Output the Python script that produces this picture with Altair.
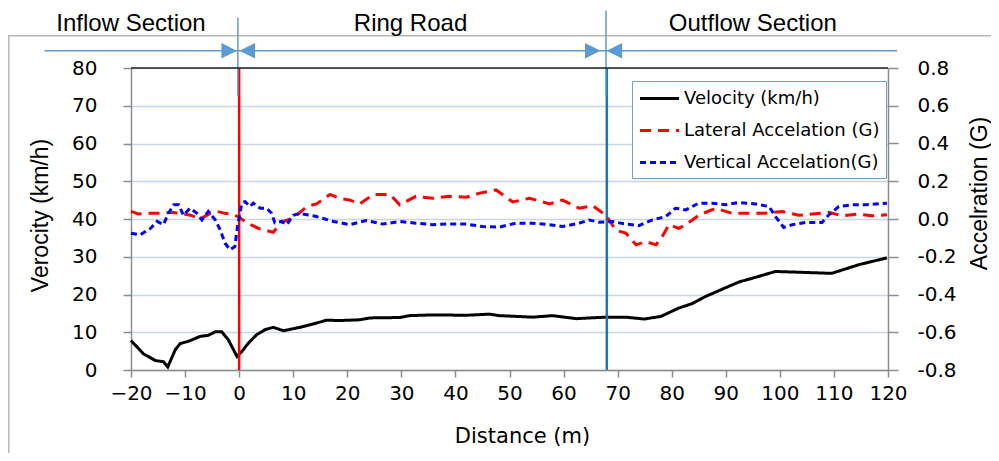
import altair as alt
import pandas as pd

# ---------------- data ----------------
vel_dist = [-20, -17.7, -15.5, -14, -13.2, -11.8, -10.9, -9.4, -7.2, -5.7, -4.4, -3.2, -2.0, -1.2, -0.4,
            0.5, 1.7, 3.2, 4.8, 6.3, 8.2, 11.2, 13.7, 16.2, 18.6, 22.3, 24.2, 29.7, 31.5, 35.8, 42, 46.3,
            48.1, 54.3, 58, 62.3, 67.8, 71.5, 74.9, 78, 81.3, 83.8, 86.3, 88.7, 92.4, 96.1, 99.2, 103.5,
            109.6, 114.6, 119.8]
vel_kmh = [7.8, 4.3, 2.5, 2.2, 0.8, 5.4, 7.0, 7.6, 8.9, 9.2, 10.1, 10.1, 8.0, 5.8, 3.6,
           4.9, 7.1, 9.3, 10.7, 11.3, 10.4, 11.3, 12.2, 13.2, 13.1, 13.3, 13.8, 13.9, 14.4, 14.6, 14.5, 14.8,
           14.4, 14.0, 14.4, 13.6, 14.0, 14.0, 13.5, 14.2, 16.4, 17.6, 19.5, 21.0, 23.3, 24.8, 26.1, 25.9,
           25.6, 27.9, 29.7]

lat_dist = [-20, -18.6, -17, -14.6, -12.7, -10.9, -9, -7.2, -5.4, -4.1, -2.6, -1.1, 0.2, 1.4, 3.6,
            6.3, 7.9, 10, 12.5, 14.3, 16.8, 18.6, 20.5, 22.3, 24.8, 27.9, 29.7, 32.7, 35.8, 38.9,
            42, 44.5, 47.5, 50.6, 53.7, 57.4, 59.8, 62.9, 65.4, 67.8, 69.7, 71.5, 73.4, 75.2, 77.1,
            78.3, 79.5, 81.3, 82.6, 85, 88.1, 91.2, 94.3, 97.3, 100.4, 103.5, 106, 109, 111.5, 114.6,
            117, 119.8]
lat_g = [0.04, 0.026, 0.03, 0.03, 0.036, 0.03, 0.02, 0.0, 0.03, 0.04, 0.03, 0.026, 0.005, -0.02, -0.05,
         -0.07, -0.015, 0.005, 0.066, 0.08, 0.13, 0.11, 0.10, 0.08, 0.13, 0.13, 0.075, 0.12, 0.11, 0.12,
         0.115, 0.137, 0.154, 0.09, 0.11, 0.08, 0.10, 0.057, 0.07, 0.02, -0.06, -0.075, -0.137, -0.12, -0.137,
         -0.09, -0.03, -0.05, -0.03, 0.02, 0.057, 0.03, 0.03, 0.03, 0.04, 0.02, 0.026, 0.035, 0.017, 0.026,
         0.017, 0.022]

ver_dist = [-20, -18.3, -16.4, -15.2, -14, -13.1, -12.1, -11.2, -10.3, -9.1, -7.8, -6.9, -5.7, -4.4, -3.5,
            -2.6, -1.7, -0.8, -0.3, 0.5, 1.1, 2, 2.6, 3.9, 5.1, 6, 6.6, 7.9, 8.8, 10,
            11.2, 14.3, 17.4, 20.5, 23.5, 26.6, 29.7, 32.7, 35.8, 38.9, 42, 45, 48.1, 51.2, 54.3,
            57.4, 59.8, 62.9, 64.7, 66.6, 69, 71.5, 73.9, 76.4, 78.9, 80.7, 82.6, 85, 87.5, 89.9,
            92.4, 95.5, 98, 99.2, 100.7, 102.3, 104.7, 107.8, 109, 110.9, 113.3, 115.8, 119.8]
ver_g = [-0.075, -0.084, -0.05, -0.013, -0.03, 0.03, 0.075, 0.075, 0.02, 0.057, 0.03, -0.005, 0.04, -0.005, -0.058,
         -0.128, -0.163, -0.146, -0.04, 0.084, 0.092, 0.066, 0.084, 0.057, 0.057, 0.03, -0.02, -0.013, -0.03, 0.02,
         0.03, 0.013, -0.013, -0.03, -0.008, -0.027, -0.013, -0.022, -0.03, -0.026, -0.027, -0.04, -0.043, -0.022, -0.022,
         -0.03, -0.04, -0.022, -0.005, -0.017, -0.013, -0.027, -0.035, -0.005, 0.013, 0.057, 0.048, 0.084, 0.084, 0.075,
         0.087, 0.08, 0.066, 0.013, -0.045, -0.03, -0.018, -0.018, 0.02, 0.066, 0.075, 0.075, 0.084]

series_names = ["Velocity (km/h)", "Lateral Accelation (G)", "Vertical Accelation(G)"]

x_ticks = list(range(-20, 121, 10))
left_ticks = list(range(0, 81, 10))
right_ticks = [-0.8, -0.6, -0.4, -0.2, 0.0, 0.2, 0.4, 0.6, 0.8]

# section annotations (in data units: distance m, velocity km/h)
section_labels = ["Inflow Section", "Ring Road", "Outflow Section"]
section_label_x = [-20.0, 31.7, 95.0]
section_label_v = 89.7
boundary_x = [-0.23, 67.85]
boundary_top = [93.3, 95.2]
boundary_bottom = 72.5
arrow_v = 84.6
arrow_line_x = [-36.0, 121.7]
arrow_right_x = [-1.84, 65.4]
arrow_left_x = [1.5, 69.4]
marker_x = [0.0, 68.0]
marker_names = ["start", "end"]
frame_x = [-42.6, 147.0]
frame_v = [-30.0, 88.55]

# ---------------- tables ----------------
vel_df = pd.DataFrame({"d": vel_dist, "v": vel_kmh, "series": series_names[0]})
acc_df = pd.concat([
    pd.DataFrame({"d": lat_dist, "g": lat_g, "series": series_names[1]}),
    pd.DataFrame({"d": ver_dist, "g": ver_g, "series": series_names[2]}),
])
text_df = pd.DataFrame({"d": section_label_x, "v": section_label_v, "label": section_labels})
bound_df = pd.DataFrame({"d": boundary_x, "v": boundary_bottom, "v2": boundary_top})
arrow_line_df = pd.DataFrame({"d": [arrow_line_x[0]], "d2": [arrow_line_x[1]], "v": [arrow_v]})
arr_r_df = pd.DataFrame({"d": arrow_right_x, "v": arrow_v})
arr_l_df = pd.DataFrame({"d": arrow_left_x, "v": arrow_v})
marker_df = pd.DataFrame({"d": marker_x, "v": 0, "v2": 80, "m": marker_names})
top_df = pd.DataFrame({"d": [-20], "d2": [120], "v": [80]})
frame_df = pd.DataFrame({"d": [frame_x[0]], "d2": [frame_x[1]], "v": [frame_v[0]], "v2": [frame_v[1]]})

# ---------------- scales / axes ----------------
XS = alt.Scale(domain=[-20, 120], nice=False, zero=False)
YS = alt.Scale(domain=[0, 80], nice=False, zero=False)
GS = alt.Scale(domain=[-0.8, 0.8], nice=False, zero=False)

TICK_FONT = "DejaVu Sans"
TITLE_FONT = "Liberation Sans"

XAX = alt.Axis(values=x_ticks, title="Distance (m)", grid=False, tickSize=7, labelPadding=6,
               labelOverlap=False, labelFlush=False,
               labelFont=TICK_FONT, labelFontSize=20, labelColor="#000000",
               titleFont=TICK_FONT, titleFontSize=21, titleFontWeight="normal", titleColor="#000000",
               titleX=391, titleY=66, titleBaseline="middle", titleAnchor="middle",
               domainColor="#8c8c8c", tickColor="#8c8c8c", domainWidth=1.5, tickWidth=1.5)
YAX = alt.Axis(values=left_ticks, title="Verocity (km/h)", grid=True, gridColor="#c8d6e8", gridWidth=1.5,
               labelOverlap=False, labelFlush=False,
               tickSize=8, labelPadding=26, labelFont=TICK_FONT, labelFontSize=20, labelColor="#000000",
               titleFont=TITLE_FONT, titleFontSize=23, titleFontWeight="normal", titleColor="#000000",
               titleAngle=270, titleX=-91, titleY=147, titleBaseline="middle", titleAlign="center",
               domainColor="#8c8c8c", tickColor="#8c8c8c", domainWidth=1.5, tickWidth=1.5)
GAX = alt.Axis(values=right_ticks, orient="right", title="Accelration (G)", grid=False,
               labelOverlap=False, labelFlush=False,
               labelExpr="datum.value < 0 ? '-' + format(-datum.value, '.1f') : format(datum.value, '.1f')",
               tickSize=10, labelPadding=19, labelFont=TICK_FONT, labelFontSize=20, labelColor="#000000",
               titleFont=TITLE_FONT, titleFontSize=23, titleFontWeight="normal", titleColor="#000000",
               titleAngle=270, titleX=91, titleY=125, titleBaseline="middle", titleAlign="center",
               domainColor="#8c8c8c", tickColor="#8c8c8c", domainWidth=1.5, tickWidth=1.5)

COLOR = alt.Color("series:N",
                  scale=alt.Scale(domain=series_names, range=["#000000", "#ff0000", "#0000ff"]),
                  legend=alt.Legend(title=None, orient="none", legendX=501, legendY=13,
                                    direction="vertical",
                                    strokeColor="#6d9fd2", fillColor="#ffffff", padding=6,
                                    rowPadding=11, symbolType="M-2,0L2,0", symbolSize=380,
                                    symbolOffset=10, labelLimit=400,
                                    symbolStrokeWidth=3, labelFont=TICK_FONT, labelFontSize=18,
                                    labelColor="#000000", labelOffset=13))
DASH = alt.StrokeDash("series:N",
                      scale=alt.Scale(domain=series_names, range=[[1, 0], [11, 7], [6, 4]]),
                      legend=alt.Legend(title=None))


def X(field="d"):
    return alt.X(f"{field}:Q", scale=XS, axis=XAX)


def Y(field="v"):
    return alt.Y(f"{field}:Q", scale=YS, axis=YAX)


frame = alt.Chart(frame_df).mark_rect(fill="transparent", stroke="#b8b8b8", strokeWidth=1.5).encode(
    x=X(), x2="d2:Q", y=Y(), y2="v2:Q")

top_border = alt.Chart(top_df).mark_rule(color="#222222", strokeWidth=1.5).encode(
    x=X(), x2="d2:Q", y=Y())

velocity = alt.Chart(vel_df).mark_line(strokeWidth=3).encode(
    x=X(), y=Y(), color=COLOR, strokeDash=DASH)

markers = alt.Chart(marker_df).mark_rule(strokeWidth=2.5).encode(
    x=X(), y=Y(), y2="v2:Q",
    stroke=alt.Stroke("m:N", scale=alt.Scale(domain=marker_names, range=["#ff0000", "#1b75bc"]), legend=None))

bounds = alt.Chart(bound_df).mark_rule(color="#5b9bd5", strokeWidth=1.5).encode(
    x=X(), y=Y(), y2="v2:Q")

arrow_line = alt.Chart(arrow_line_df).mark_rule(color="#5b9bd5", strokeWidth=1.5).encode(
    x=X(), x2="d2:Q", y=Y())

arr_r = alt.Chart(arr_r_df).mark_point(shape="M-1,-1L1,0L-1,1Z", filled=True, size=240,
                                        color="#5b9bd5", opacity=1).encode(x=X(), y=Y())
arr_l = alt.Chart(arr_l_df).mark_point(shape="M1,-1L-1,0L1,1Z", filled=True, size=240,
                                        color="#5b9bd5", opacity=1).encode(x=X(), y=Y())

texts = alt.Chart(text_df).mark_text(font=TITLE_FONT, fontSize=24, color="#000000",
                                     align="center", baseline="alphabetic").encode(
    x=X(), y=Y(), text="label:N")

left = alt.layer(frame, velocity, markers, bounds, arrow_line, arr_r, arr_l, texts, top_border)

accel = alt.Chart(acc_df).mark_line(strokeWidth=3).encode(
    x=X(), y=alt.Y("g:Q", scale=GS, axis=GAX), color=COLOR, strokeDash=DASH)

chart = alt.layer(left, accel).resolve_scale(y="independent").properties(
    width=757, height=302,
    autosize=alt.AutoSizeParams(type="none"),
    padding={"left": 123, "top": 60, "right": 103, "bottom": 83},
).configure_view(stroke=None).configure(background="#ffffff")

chart.save("out.html", embed_options={"renderer": "svg", "actions": False})
